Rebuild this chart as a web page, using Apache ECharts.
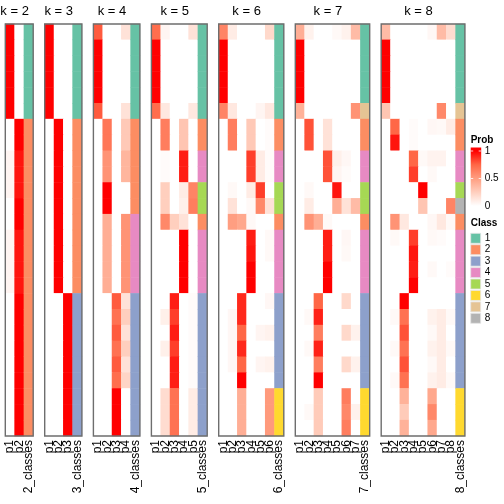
<!DOCTYPE html>
<html><head><meta charset="utf-8">
<script src="https://cdn.jsdelivr.net/npm/echarts@6/dist/echarts.min.js"></script>
<style>html,body{margin:0;padding:0;background:#fff}#c{width:504px;height:504px}</style>
</head><body><div id="c"></div><script>
const ks = [2,3,4,5,6,7,8];
const classColors = ['#66C2A5','#FC8D62','#8DA0CB','#E78AC3','#A6D854','#FFD92F','#E5C494','#B3B3B3'];
const classLabels = ['1','2','3','4','5','6','7','8'];
const probTicks = [1, 0.5, 0];
const probTickLabels = ['1','0.5','0'];

const prob2 = [
[1,0],[1,0],[1,0],[1,0],[1,0],[1,0],
[0,1],[0,1],[0.05,0.95],[0.05,0.95],[0.05,0.95],[0,1],[0,1],[0.05,0.95],[0.05,0.95],[0.05,0.95],[0.05,0.95],
[0,1],[0,1],[0,1],[0,1],[0,1],[0,1],[0,1],[0,1],[0,1]];
const prob3 = [
[1,0,0],[1,0,0],[1,0,0],[1,0,0],[1,0,0],[1,0,0],
[0,1,0],[0,1,0],[0,1,0],[0,1,0],[0,1,0],[0,1,0],[0,1,0],[0,1,0],[0,1,0],[0,1,0],[0,1,0],
[0,0,1],[0,0,1],[0,0,1],[0,0,1],[0,0,1],[0,0,1],[0,0,1],[0,0,1],[0,0,1]];
const prob4 = [
[0.78,0,0,0.15],[1,0,0,0],[1,0,0,0],[1,0,0,0],[1,0,0,0],[0.78,0,0,0.15],
[0,0.68,0,0.28],[0,0.68,0,0.28],[0,0.55,0,0.38],[0,0.55,0,0.38],[0,1,0,0],[0,1,0,0],
[0,0.42,0,0.55],[0,0.42,0,0.55],[0,0.42,0,0.55],[0,0.42,0,0.55],[0,0.42,0,0.55],
[0,0,0.78,0.15],[0,0,0.7,0.25],[0,0,0.78,0.15],[0,0,0.7,0.25],[0,0,0.78,0.15],[0,0,0.72,0.22],
[0,0,1,0],[0,0,1,0],[0,0,1,0]];
const prob5 = [
[0.72,0.05,0,0,0.15],[1,0,0,0,0],[1,0,0,0,0],[1,0,0,0,0],[1,0,0,0,0],[0.72,0.12,0,0,0.12],
[0,0.65,0,0.3,0],[0,0.65,0,0.3,0],[0,0.02,0,0.93,0],[0,0.02,0,0.93,0],
[0,0.25,0,0.1,0.62],[0,0.25,0,0.08,0.65],[0,0.6,0.25,0.15,0],
[0,0,0,1,0],[0,0,0,1,0],[0,0,0,1,0],[0,0,0,1,0],
[0,0,0.93,0,0.02],[0,0.08,0.85,0,0.02],[0,0,0.93,0,0.02],[0,0.08,0.85,0,0.02],[0,0,0.93,0,0.02],[0,0,0.93,0,0.02],
[0,0.18,0.7,0,0.1],[0,0.18,0.7,0,0.1],[0,0.18,0.7,0,0.1]];
const prob6 = [
[0.62,0.1,0,0,0,0.2],[1,0,0,0,0,0],[1,0,0,0,0,0],[1,0,0,0,0,0],[1,0,0,0,0,0],[0.62,0.12,0,0,0.05,0.12],
[0,0.65,0,0.28,0,0.02],[0,0.65,0,0.28,0,0.02],[0,0,0,0.85,0.1,0.02],[0,0,0,0.85,0.1,0.02],
[0,0.03,0,0.1,0.85,0],[0,0.15,0,0.03,0.6,0.15],[0,0.5,0.45,0.03,0,0],
[0,0,0,0.93,0,0.03],[0,0,0,0.95,0,0.03],[0,0,0,1,0,0],[0,0,0,1,0,0],
[0,0,0.9,0,0,0.04],[0,0.04,0.9,0,0,0],[0,0.04,0.75,0,0.05,0.07],[0,0.04,0.9,0,0,0],[0,0.04,0.75,0,0.05,0.07],[0,0,1,0,0,0],
[0,0,0.42,0,0,0.52],[0,0,0.42,0,0,0.52],[0,0,0.42,0,0,0.52]];
const prob7 = [
[0.42,0.07,0,0,0.03,0.07,0.35],[1,0,0,0,0,0,0],[1,0,0,0,0,0,0],[1,0,0,0,0,0,0],[1,0,0,0,0,0,0],[0.4,0,0,0,0,0,0.55],
[0,0.8,0,0.15,0,0,0],[0,0.8,0,0.15,0,0,0],[0,0,0,0.8,0.08,0.04,0],[0,0,0,0.8,0.05,0.02,0],
[0,0.03,0,0,0.95,0,0],[0,0.1,0,0,0.42,0.15,0.35],[0,0.55,0.42,0.03,0,0,0],
[0,0,0,0.93,0,0.04,0],[0,0,0,0.93,0,0.03,0],[0,0,0,1,0,0,0],[0,0,0,1,0,0,0],
[0,0,0.75,0,0,0.2,0],[0,0.03,0.92,0,0,0,0],[0,0,0.65,0,0,0.2,0.07],[0,0.03,0.92,0,0,0,0],[0,0,0.65,0,0,0.2,0.07],[0,0,1,0,0,0,0],
[0,0,0.27,0,0,0.65,0],[0,0.03,0.27,0,0,0.6,0.07],[0,0,0.27,0,0,0.65,0]];
const prob8 = [
[0.35,0,0,0,0,0.04,0.35,0.18],[1,0,0,0,0,0,0,0],[1,0,0,0,0,0,0,0],[1,0,0,0,0,0,0,0],[1,0,0,0,0,0,0,0],[0.3,0,0,0,0,0,0.6,0],
[0,0.75,0,0.02,0,0.04,0.03,0.1],[0,0.95,0,0.02,0,0,0,0],[0,0,0,0.75,0.03,0.06,0.06,0],[0,0,0,0.85,0,0.03,0,0],
[0,0,0,0,1,0,0,0],[0,0,0,0,0.3,0,0,0.62],[0,0.55,0.12,0,0,0.04,0.12,0.03],
[0,0.03,0,0.85,0,0.03,0.02,0],[0,0,0,0.95,0,0,0,0],[0,0,0,0.93,0,0.03,0,0.02],[0,0,0,1,0,0,0,0],
[0,0,1,0,0,0,0,0],[0,0.03,0.7,0,0,0.07,0.1,0.03],[0,0,0.8,0,0,0.03,0.1,0],[0,0.03,0.7,0,0,0.07,0.1,0.03],[0,0,0.8,0,0,0.03,0.1,0],[0,0.03,0.7,0,0,0.07,0.1,0.03],
[0,0,0.4,0,0,0.45,0,0],[0,0,0.27,0,0,0.6,0,0],[0,0,0.4,0,0,0.45,0,0]];

const cls2 = [1,1,1,1,1,1,2,2,2,2,2,2,2,2,2,2,2,2,2,2,2,2,2,2,2,2];
const cls3 = [1,1,1,1,1,1,2,2,2,2,2,2,2,2,2,2,2,3,3,3,3,3,3,3,3,3];
const cls4 = [1,1,1,1,1,1,2,2,2,2,2,2,4,4,4,4,4,3,3,3,3,3,3,3,3,3];
const cls5 = [1,1,1,1,1,1,2,2,4,4,5,5,2,4,4,4,4,3,3,3,3,3,3,3,3,3];
const cls6 = [1,1,1,1,1,1,2,2,4,4,5,5,2,4,4,4,4,3,3,3,3,3,3,6,6,6];
const cls7 = [1,1,1,1,1,7,2,2,4,4,5,5,2,4,4,4,4,3,3,3,3,3,3,6,6,6];
const cls8 = [1,1,1,1,1,7,2,2,4,4,5,8,2,4,4,4,4,3,3,3,3,3,3,6,6,6];

(function () {
const probs = [prob2,prob3,prob4,prob5,prob6,prob7,prob8];
const classes = [cls2,cls3,cls4,cls5,cls6,cls7,cls8];

// layout
const FONT = 'Liberation Sans, Arial, Helvetica, sans-serif';
const colW = 9.3, gap = 11.5, x0 = 5.3, gTop = 24, gH = 412;
const rowNames = prob2.map((_, i) => 'r' + (i + 1));

const grids = [], xAxes = [], yAxes = [], series = [], graphics = [];
const probSeriesIdx = [], clsSeriesIdx = [];
let gLeft = x0;
ks.forEach((k, i) => {
  const w = (k + 1) * colW;
  grids.push({left: gLeft, top: gTop, width: w, height: gH, containLabel: false});
  const cols = [];
  for (let j = 1; j <= k; j++) cols.push('p' + j);
  cols.push(k + '_classes');
  xAxes.push({type: 'category', gridIndex: i, data: cols, position: 'bottom',
    axisLine: {show: false}, axisTick: {show: false}, splitLine: {show: false},
    axisLabel: {rotate: 90, interval: 0, fontSize: 12, color: '#000', margin: 4, fontFamily: FONT}});
  yAxes.push({type: 'category', gridIndex: i, data: rowNames, inverse: true, show: false});
  const pd = [];
  probs[i].forEach((row, r) => row.forEach((v, c) => pd.push([c, r, v])));
  probSeriesIdx.push(series.length);
  series.push({type: 'heatmap', xAxisIndex: i, yAxisIndex: i, data: pd, emphasis: {disabled: true}, silent: true});
  const cd = classes[i].map((v, r) => [k, r, v]);
  clsSeriesIdx.push(series.length);
  series.push({type: 'heatmap', xAxisIndex: i, yAxisIndex: i, data: cd, emphasis: {disabled: true}, silent: true});
  graphics.push({type: 'rect', shape: {x: gLeft, y: gTop, width: w, height: gH}, z: 100,
    style: {fill: null, stroke: '#6e6e6e', lineWidth: 1.4}});
  graphics.push({type: 'text', x: gLeft + k * colW / 2, y: 11, z: 100,
    style: {text: 'k = ' + k, fontSize: 13, fontFamily: FONT, fill: '#000', align: 'center', verticalAlign: 'middle', textAlign: 'center', textVerticalAlign: 'middle'}});
  gLeft += w + gap;
});

// Prob legend
const lx = 470.7;
const yTop = 151, yBot = 206;
graphics.push({type: 'text', x: lx, y: 140, style: {text: 'Prob', fontSize: 10, fontWeight: 'bold', fontFamily: FONT, fill: '#000', verticalAlign: 'middle', textVerticalAlign: 'middle'}});
const barY0 = 147.5, barY1 = 209.5;
const off = y => (y - barY0) / (barY1 - barY0);
graphics.push({type: 'rect', shape: {x: lx, y: barY0, width: 10.5, height: barY1 - barY0},
  style: {fill: {type: 'linear', x: 0, y: 0, x2: 0, y2: 1, colorStops: [
    {offset: 0, color: '#ff0000'}, {offset: off(yTop), color: '#ff0000'},
    {offset: off(yTop + (yBot - yTop) * 0.25), color: '#ff6746'},
    {offset: off(yTop + (yBot - yTop) * 0.5), color: '#ff9e81'},
    {offset: off(yTop + (yBot - yTop) * 0.75), color: '#ffcfbe'},
    {offset: off(yBot), color: '#ffffff'}, {offset: 1, color: '#ffffff'}]}}});
probTicks.forEach((v, i) => {
  const y = yBot - (yBot - yTop) * v;
  graphics.push({type: 'line', shape: {x1: lx, y1: y, x2: lx + 2.5, y2: y}, style: {stroke: 'rgba(255,255,255,0.8)', lineWidth: 1}});
  graphics.push({type: 'line', shape: {x1: lx + 8, y1: y, x2: lx + 10.5, y2: y}, style: {stroke: 'rgba(255,255,255,0.8)', lineWidth: 1}});
  graphics.push({type: 'text', x: lx + 14, y: y, style: {text: probTickLabels[i], fontSize: 10, fontFamily: FONT, fill: '#000', verticalAlign: 'middle', textVerticalAlign: 'middle'}});
});
// Class legend
graphics.push({type: 'text', x: lx, y: 223.5, style: {text: 'Class', fontSize: 10, fontWeight: 'bold', fontFamily: FONT, fill: '#000', verticalAlign: 'middle', textVerticalAlign: 'middle'}});
classLabels.forEach((lab, i) => {
  const y = 233.3 + i * 11.43;
  graphics.push({type: 'rect', shape: {x: lx, y: y, width: 10, height: 10}, style: {fill: classColors[i], stroke: '#e6e6e6', lineWidth: 0.8}});
  graphics.push({type: 'text', x: lx + 14, y: y + 5, style: {text: lab, fontSize: 10, fontFamily: FONT, fill: '#000', verticalAlign: 'middle', textVerticalAlign: 'middle'}});
});

const chart = echarts.init(document.getElementById('c'), null, {renderer: 'canvas'});
chart.setOption({
  animation: false,
  backgroundColor: '#fff',
  grid: grids, xAxis: xAxes, yAxis: yAxes, series: series,
  visualMap: [
    {type: 'continuous', min: 0, max: 1, show: false, seriesIndex: probSeriesIdx, dimension: 2,
      inRange: {color: ['#ffffff', '#ffcfbe', '#ff9e81', '#ff6746', '#ff0000']}},
    {type: 'piecewise', show: false, seriesIndex: clsSeriesIdx, dimension: 2,
      pieces: classColors.map((c, i) => ({value: i + 1, color: c}))}
  ],
  graphic: graphics
});
})();
</script></body></html>
